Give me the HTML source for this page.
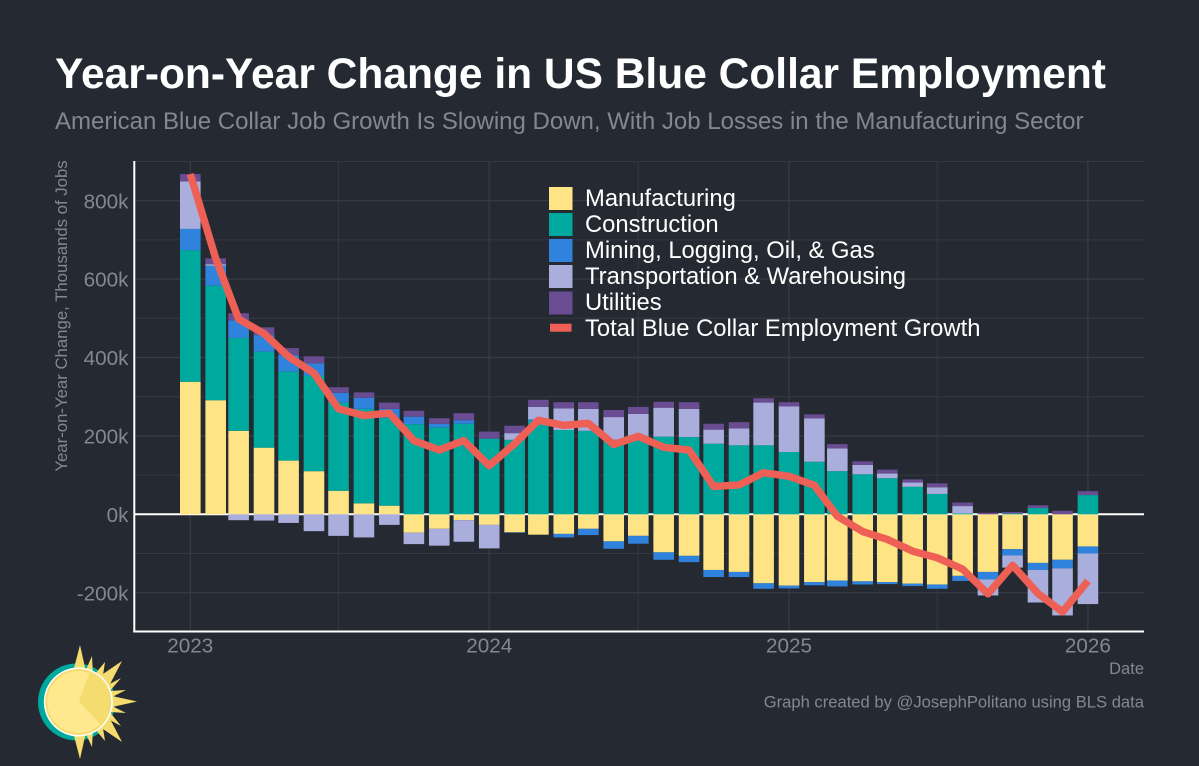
<!DOCTYPE html>
<html lang="en">
<head>
<meta charset="utf-8">
<title>Year-on-Year Change in US Blue Collar Employment</title>
<style>
html,body{margin:0;padding:0;background:#252a32;}
svg{display:block;}
text{font-family:"Liberation Sans",Arial,sans-serif;}
</style>
</head>
<body>
<svg id="chart" xmlns="http://www.w3.org/2000/svg" width="1199" height="766" viewBox="0 0 1199 766">
  <rect x="0" y="0" width="1199" height="766" fill="#252a32"/>
  <text x="55" y="88" font-size="42.5" font-weight="700" fill="#ffffff">Year-on-Year Change in US Blue Collar Employment</text>
  <text x="55" y="129" font-size="24" fill="#84878e">American Blue Collar Job Growth Is Slowing Down, With Job Losses in the Manufacturing Sector</text>
  <g id="grid"></g>
  <line x1="134" x2="1144" y1="514.3" y2="514.3" stroke="#ffffff" stroke-width="2"/>
  <g id="bars"></g>
  <line x1="134.3" x2="134.3" y1="161" y2="632" stroke="#ffffff" stroke-width="2"/>
  <line x1="133.3" x2="1144" y1="631.5" y2="631.5" stroke="#ffffff" stroke-width="2"/>
  <polyline id="total-line" fill="none" stroke="#ee6055" stroke-width="7.4" stroke-linejoin="round" stroke-linecap="butt"/>
  <g id="ticks"></g>
  <text transform="translate(67,316) rotate(-90)" text-anchor="middle" font-size="16.75" fill="#84878e">Year-on-Year Change, Thousands of Jobs</text>
  <text x="1144" y="674" text-anchor="end" font-size="16.5" fill="#84878e">Date</text>
  <g>
    <g>
      <rect x="549" y="187" width="23.5" height="23" fill="#ffe485"/>
      <text x="585" y="206" font-size="23.8" fill="#ffffff">Manufacturing</text>
    </g>
    <g>
      <rect x="549" y="213" width="23.5" height="23" fill="#00a99d"/>
      <text x="585" y="232" font-size="23.8" fill="#ffffff">Construction</text>
    </g>
    <g>
      <rect x="549" y="239" width="23.5" height="23" fill="#3083dc"/>
      <text x="585" y="258" font-size="23.8" fill="#ffffff">Mining, Logging, Oil, &amp; Gas</text>
    </g>
    <g>
      <rect x="549" y="265" width="23.5" height="23" fill="#a9aedc"/>
      <text x="585" y="284" font-size="23.8" fill="#ffffff">Transportation &amp; Warehousing</text>
    </g>
    <g>
      <rect x="549" y="291.5" width="23.5" height="23" fill="#6a4c93"/>
      <text x="585" y="310" font-size="23.8" fill="#ffffff">Utilities</text>
    </g>
    <g>
      <rect x="550" y="323.7" width="21.5" height="8" fill="#ee6055"/>
      <text x="585" y="336" font-size="23.8" fill="#ffffff">Total Blue Collar Employment Growth</text>
    </g>
  </g>
  <text x="1144" y="707.7" text-anchor="end" font-size="16.6" fill="#84878e">Graph created by @JosephPolitano using BLS data</text>
  <g>
    <circle cx="76.5" cy="702" r="38.5" fill="#00a99d"/>
    <g fill="#f5dc6f">
      <polygon points="73,672 80,645 86,672"/>
      <polygon points="85,672 92,656 93,676"/>
      <polygon points="95,674 105,662 102,682"/>
      <polygon points="100,676 122,661 108,688"/>
      <polygon points="106,686 121,678 109,692"/>
      <polygon points="110,691 126,690 112,697"/>
      <polygon points="112,696 137,701.5 112,707"/>
      <polygon points="112,706 126,713 110,712"/>
      <polygon points="109,711 121,726 106,718"/>
      <polygon points="108,715 122,742 100,727"/>
      <polygon points="102,722 105,741 95,729"/>
      <polygon points="93,728 92,747 85,732"/>
      <polygon points="86,732 80,759 73,732"/>
    </g>
    <circle cx="78.3" cy="702" r="34.5" fill="#ffffff"/>
    <circle cx="78.3" cy="702" r="33" fill="#f5dc6f"/>
    <circle cx="78.3" cy="702" r="31" fill="#ffe98f"/>
    <path d="M78.8,701.7 L89.3,673 A31,31 0 0 1 100.3,724 Z" fill="#f5dc6f"/>
  </g>
</svg>
<script>
const categories = ["2023-01","2023-02","2023-03","2023-04","2023-05","2023-06","2023-07","2023-08","2023-09","2023-10","2023-11","2023-12","2024-01","2024-02","2024-03","2024-04","2024-05","2024-06","2024-07","2024-08","2024-09","2024-10","2024-11","2024-12","2025-01","2025-02","2025-03","2025-04","2025-05","2025-06","2025-07","2025-08","2025-09","2025-10","2025-11","2025-12","2026-01"];
const manufacturing = [338,291,213,170,137,110,60,28,22,-47,-37,-15,-27,-46,-52,-50,-37,-69,-55,-97,-106,-142,-147,-176,-182,-173,-169,-171,-173,-177,-179,-157,-147,-89,-124,-116,-82];
const construction = [336,292,237,245,227,244,225,241,224,230,222,231,193,190,239,215,213,190,198,198,197,180,176,176,159,134,110,102,92,70,52,2,0,2,16,0,49];
const mining = [54,51,45,42,42,31,25,28,23,19,9,9,0,-1,3,-9,-16,-19,-20,-19,-16,-18,-13,-14,-7,-8,-15,-8,-5,-6,-11,-13,-19,-16,-18,-22,-18];
const transportation = [121,4,-15,-16,-22,-43,-55,-59,-27,-29,-43,-55,-60,17,32,55,56,58,58,74,72,36,43,109,116,111,58,24,12,11,17,19,-41,-31,-83,-120,-129];
const utilities = [19,15,18,20,18,18,14,14,16,15,14,18,18,19,18,16,17,18,18,15,17,15,16,11,11,10,11,9,10,8,10,9,4,4,7,9,10];
const totals = [868,653,498,461,402,360,269,252,258,188,164,188,124,180,240,227,232,178,199,171,164,71,75,106,97,74,-5,-44,-64,-94,-111,-140,-203,-130,-202,-249,-170];
const seriesNames = ["manufacturing","construction","mining","transportation","utilities"];
const seriesColors = ["#ffe485","#00a99d","#3083dc","#a9aedc","#6a4c93"];
const yMajorTicks = [-200,0,200,400,600,800];
const yMinorTicks = [-300,-100,100,300,500,700,900];
const xMajorTicks = ["2023-01","2024-01","2025-01","2026-01"];
const xMinorTicks = ["2023-07","2024-07","2025-07"];
const xTickLabels = ["2023","2024","2025","2026"];

const SVGNS = "http://www.w3.org/2000/svg";
const allSeries = [manufacturing, construction, mining, transportation, utilities];

function yScale(v){ return 514.3 - v * 0.392; }
function xScale(ym){
  const parts = ym.split("-");
  const days = (Date.UTC(+parts[0], +parts[1] - 1, 1) - Date.UTC(2023, 0, 1)) / 86400000;
  return 190.3 + days * 0.819;
}
function fmtY(v){ return v + "k"; }
function make(tag, attrs){
  const el = document.createElementNS(SVGNS, tag);
  for (const k in attrs) el.setAttribute(k, attrs[k]);
  return el;
}

const grid = document.getElementById("grid");
const barsGroup = document.getElementById("bars");
const ticks = document.getElementById("ticks");

yMinorTicks.forEach(function(v){
  const ln = make("line", {x1:134, x2:1144, y1:yScale(v), y2:yScale(v), stroke:"#343840", "stroke-width":1});
  
  
  grid.appendChild(ln);
});
yMajorTicks.forEach(function(v){
  const ln = make("line", {x1:134, x2:1144, y1:yScale(v), y2:yScale(v), stroke:"#383c44", "stroke-width":1.2});
  
  
  grid.appendChild(ln);
  const t = make("text", {x:128.5, y:yScale(v) + 7.6, "text-anchor":"end", "font-size":20.7, fill:"#84878e"});
  t.textContent = fmtY(v);
  
  
  ticks.appendChild(t);
});
xMinorTicks.forEach(function(d){
  const ln = make("line", {x1:xScale(d), x2:xScale(d), y1:161, y2:631, stroke:"#343840", "stroke-width":1});
  
  
  grid.appendChild(ln);
});
xMajorTicks.forEach(function(d, i){
  const ln = make("line", {x1:xScale(d), x2:xScale(d), y1:161, y2:631, stroke:"#383c44", "stroke-width":1.2});
  
  
  grid.appendChild(ln);
  const t = make("text", {x:xScale(d), y:652.7, "text-anchor":"middle", "font-size":20.7, fill:"#84878e"});
  t.textContent = xTickLabels[i];
  
  
  ticks.appendChild(t);
});

const BAR_WIDTH = 20.6;
categories.forEach(function(cat, i){
  let pos = 0, neg = 0;
  allSeries.forEach(function(series, s){
    const v = series[i];
    if (!v) return;
    const start = v > 0 ? pos : neg;
    const end = start + v;
    if (v > 0) pos = end; else neg = end;
    const r = make("rect", {
      x: xScale(cat) - BAR_WIDTH / 2,
      y: Math.min(yScale(start), yScale(end)),
      width: BAR_WIDTH,
      height: Math.abs(yScale(start) - yScale(end)),
      fill: seriesColors[s]
    });
    
    
    barsGroup.appendChild(r);
  });
});

document.getElementById("total-line").setAttribute("points",
  categories.map(function(c, i){ return xScale(c) + "," + yScale(totals[i]); }).join(" "));
</script>
</body>
</html>
